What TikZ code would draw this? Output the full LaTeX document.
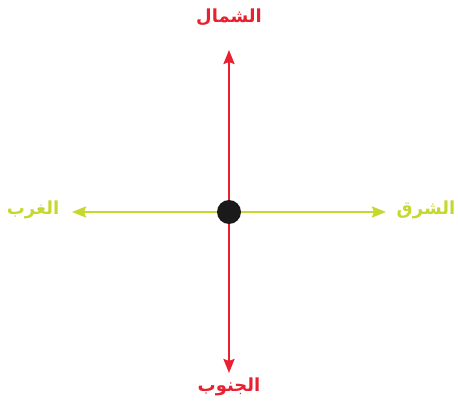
\documentclass[tikz,border=0pt]{standalone}
\usepackage{fontspec}
\newfontfamily\arabicfont[Script=Arabic]{DejaVu Sans}
\TeXXeTstate=1
\usetikzlibrary{arrows.meta}
\definecolor{nred}{HTML}{E8202F}
\definecolor{eyel}{HTML}{C6D82E}
\definecolor{dotc}{HTML}{1A1A1A}
\tikzset{
  axisarrow/.style={line width=2.3pt,-{Stealth[length=14pt,width=11pt,inset=2pt]}},
  lbl/.style={font=\arabicfont\bfseries\fontsize{18}{20}\selectfont, inner sep=0pt}
}
\begin{document}
\begin{tikzpicture}[x=1pt,y=-1pt]
\useasboundingbox (0,0) rectangle (458,409);
\coordinate (c) at (229,212);
\coordinate (w) at (72,212);
\coordinate (e) at (386,212);
\coordinate (n) at (229,50);
\coordinate (s) at (229,373);
\draw[axisarrow,eyel] (c) -- (w);
\draw[axisarrow,eyel] (c) -- (e);
\draw[axisarrow,nred] (c) -- (n);
\draw[axisarrow,nred] (c) -- (s);
\node[circle,fill=dotc,minimum size=24pt,inner sep=0pt] (dot) at (c) {};
\node[lbl,text=nred] (north) at (229,17) {\beginR الشمال\endR};
\node[lbl,text=nred] (south) at (229,387) {\beginR الجنوب\endR};
\node[lbl,text=eyel] (west) at (33,210) {\beginR الغرب\endR};
\node[lbl,text=eyel] (east) at (426,210) {\beginR الشرق\endR};
\end{tikzpicture}
\end{document}
